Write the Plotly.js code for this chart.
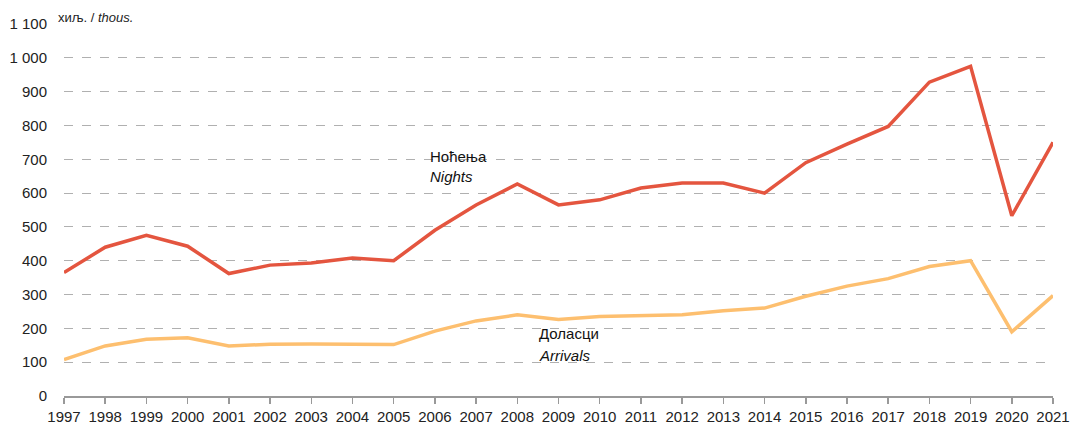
<!DOCTYPE html>
<html><head><meta charset="utf-8">
<script src="https://cdn.plot.ly/plotly-3.0.1.min.js"></script>
<style>html,body{margin:0;padding:0;background:#fff}#chart{width:1071px;height:424px}</style>
</head><body><div id="chart"></div>
<script>
const years = [1997,1998,1999,2000,2001,2002,2003,2004,2005,2006,2007,2008,2009,2010,2011,2012,2013,2014,2015,2016,2017,2018,2019,2020,2021];
const nights = [365,440,475,443,362,387,393,408,400,490,565,627,565,580,615,630,630,600,690,745,797,928,975,533,750];
const arrivals = [108,148,168,172,148,153,154,152,152,192,222,240,226,235,237,240,252,260,295,325,347,383,400,190,297];
const yTickVals = [0,100,200,300,400,500,600,700,800,900,1000,1100];
const yTickText = ['0','100','200','300','400','500','600','700','800','900','1 000','1 100'];

const font = 'Arial, "Liberation Sans", sans-serif';
const traces = [
  {x: years, y: nights, type:'scatter', mode:'lines', line:{color:'#e4553f', width:3.5}, hoverinfo:'skip'},
  {x: years, y: arrivals, type:'scatter', mode:'lines', line:{color:'#fdbf6f', width:3.5}, hoverinfo:'skip'}
];
const layout = {
  width:1071, height:424,
  margin:{l:64, r:18, t:24, b:28},
  showlegend:false,
  paper_bgcolor:'#fff', plot_bgcolor:'#fff',
  font:{family:font, size:15, color:'#222'},
  xaxis:{range:[1997,2021], tickvals:years, ticktext:years.map(String), showgrid:false,
    showline:true, linecolor:'#999', linewidth:1.5, ticks:'outside', ticklen:6, tickcolor:'#999', tickwidth:1.5,
    zeroline:false, tickfont:{family:font, size:15, color:'#222'}, fixedrange:true},
  yaxis:{range:[0,1100], tickvals:yTickVals, ticktext:yTickText, showgrid:true, gridcolor:'#b0b0b0', griddash:'dash', gridwidth:1,
    zeroline:false, showline:false, ticks:'', ticklabelstandoff:16, tickfont:{family:font, size:15, color:'#222'}, fixedrange:true},
  annotations:[
    {xref:'paper', yref:'paper', x:0, y:1, xanchor:'left', yanchor:'bottom', xshift:-8, yshift:-3, showarrow:false,
     text:'хиљ. / <i>thous.</i>', font:{family:font, size:13, color:'#222'}},
    {xref:'x', yref:'y', x:2005.83, y:709, showarrow:false, xanchor:'left', yanchor:'middle', text:'Ноћења', font:{family:font, size:15, color:'#111'}},
    {xref:'x', yref:'y', x:2005.83, y:650, showarrow:false, xanchor:'left', yanchor:'middle', text:'<i>Nights</i>', font:{family:font, size:15, color:'#111'}},
    {xref:'x', yref:'y', x:2008.48, y:186, showarrow:false, xanchor:'left', yanchor:'middle', text:'Доласци', font:{family:font, size:15, color:'#111'}},
    {xref:'x', yref:'y', x:2008.48, y:120, showarrow:false, xanchor:'left', yanchor:'middle', text:'<i>Arrivals</i>', font:{family:font, size:15, color:'#111'}}
  ]
};
Plotly.newPlot('chart', traces, layout, {displayModeBar:false, staticPlot:true});
</script></body></html>
